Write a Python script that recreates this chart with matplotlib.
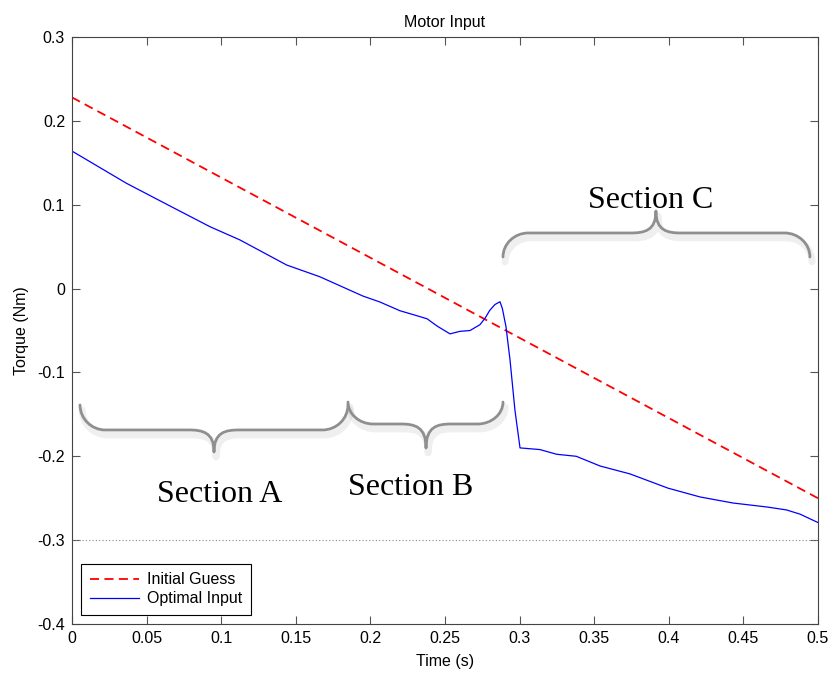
import matplotlib
matplotlib.use('Agg')
import matplotlib.pyplot as plt
import matplotlib.patheffects as pe
from matplotlib.path import Path
import matplotlib.patches as mpatches

plt.rcParams['font.family'] = ['Liberation Sans', 'DejaVu Sans']

# du lieu doc tu hinh
guess_t = [0.0, 0.5]
guess_u = [0.228, -0.25]

opt_t = [0.0, 0.0366, 0.0657, 0.0925, 0.1126, 0.1439, 0.166, 0.195, 0.2064,
         0.2198, 0.2286, 0.238, 0.245, 0.2534, 0.26, 0.2668, 0.2735, 0.277,
         0.28, 0.2835, 0.2869, 0.2885, 0.2909, 0.2936, 0.2969, 0.3003, 0.3137,
         0.3249, 0.338, 0.354, 0.374, 0.3995, 0.421, 0.443, 0.466, 0.479, 0.488, 0.5]
opt_u = [0.164, 0.1255, 0.0985, 0.0738, 0.058, 0.0281, 0.0142, -0.0089, -0.016,
         -0.0264, -0.031, -0.036, -0.045, -0.054, -0.051, -0.05, -0.043, -0.035,
         -0.026, -0.019, -0.0157, -0.024, -0.0455, -0.085, -0.145, -0.19, -0.192,
         -0.1976, -0.2, -0.2116, -0.221, -0.238, -0.2485, -0.2557, -0.2605, -0.264,
         -0.269, -0.279]

ref_level = -0.3

xticks = [0, 0.05, 0.1, 0.15, 0.2, 0.25, 0.3, 0.35, 0.4, 0.45, 0.5]
xtick_labels = ['0', '0.05', '0.1', '0.15', '0.2', '0.25', '0.3', '0.35', '0.4', '0.45', '0.5']
yticks = [-0.4, -0.3, -0.2, -0.1, 0, 0.1, 0.2, 0.3]
ytick_labels = ['-0.4', '-0.3', '-0.2', '-0.1', '0', '0.1', '0.2', '0.3']

# ngoac nhon: (x0, x1, xtip, y_end, y_flat, y_tip, ten, x_text, y_text)
sections = [
    (0.0054, 0.185, 0.0952, -0.1388, -0.1686, -0.1949, 'Section A', 0.0992, -0.246),
    (0.185, 0.2889, 0.2373, -0.1353, -0.1615, -0.1901, 'Section B', 0.2272, -0.2378),
    (0.2889, 0.4946, 0.3914, 0.0377, 0.0663, 0.0925, 'Section C', 0.388, 0.1056),
]


def brace_path(x0, x1, xt, ye, yf, yt, r=0.017):
    k = 0.55
    verts = [
        # goc trai
        (x0, ye), (x0, ye + k * (yf - ye)), (x0 + (1 - k) * r, yf), (x0 + r, yf),
        (xt - r, yf),
        # xuong dinh
        (xt - (1 - k) * r, yf), (xt, yf + 0.1 * (yt - yf)), (xt, yt),
        # tu dinh sang phai
        (xt, yf + 0.1 * (yt - yf)), (xt + (1 - k) * r, yf), (xt + r, yf),
        (x1 - r, yf),
        (x1 - (1 - k) * r, yf), (x1, ye + k * (yf - ye)), (x1, ye),
    ]
    codes = [Path.MOVETO, Path.CURVE4, Path.CURVE4, Path.CURVE4,
             Path.LINETO,
             Path.CURVE4, Path.CURVE4, Path.CURVE4,
             Path.CURVE4, Path.CURVE4, Path.CURVE4,
             Path.LINETO,
             Path.CURVE4, Path.CURVE4, Path.CURVE4]
    return Path(verts, codes)


fig = plt.figure(figsize=(8.3, 6.73), dpi=100, facecolor='white')
ax = fig.add_axes([0.0867, 0.0728, 0.8988, 0.8722])

ax.plot(guess_t, guess_u, '--', color='red', lw=1.3, dashes=(5, 3), label='Initial Guess')
ax.plot(opt_t, opt_u, '-', color='blue', lw=0.9, label='Optimal Input')
ax.axhline(ref_level, color='#888888', lw=0.8, ls=(0, (1, 2)))

for (x0, x1, xt, ye, yf, yt, name, tx, ty) in sections:
    p = mpatches.PathPatch(brace_path(x0, x1, xt, ye, yf, yt), facecolor='none',
                           edgecolor='#8f8f8f', lw=2.0, capstyle='round',
                           joinstyle='round', zorder=3,
                           path_effects=[pe.SimpleLineShadow(offset=(1.5, -3.5), shadow_color='#aaaaaa',
                                                             alpha=0.18, linewidth=5),
                                         pe.Normal()])
    ax.add_patch(p)
    ax.text(tx, ty, name, ha='center', va='center', fontsize=23,
            family=['Liberation Serif', 'DejaVu Serif'], color='black')

ax.set_xlim(0, 0.5)
ax.set_ylim(-0.4, 0.3)
ax.set_xticks(xticks)
ax.set_xticklabels(xtick_labels)
ax.set_yticks(yticks)
ax.set_yticklabels(ytick_labels)
ax.tick_params(direction='in', length=6, width=0.8, top=True, right=True,
               labelsize=11.5, pad=5, color='#555555')
for s in ax.spines.values():
    s.set_linewidth(0.8)
    s.set_color('#444444')

ax.set_title('Motor Input', fontsize=11.5, pad=7)
ax.set_xlabel('Time (s)', fontsize=11.5, labelpad=6)
ax.set_ylabel('Torque (Nm)', fontsize=11.5, labelpad=6)

leg = ax.legend(loc='lower left', fontsize=11.5, fancybox=False, framealpha=1,
                edgecolor='black', borderaxespad=0.55, handlelength=3.1,
                borderpad=0.55, labelspacing=0.25, handletextpad=0.5)
leg.get_frame().set_linewidth(0.8)

fig.savefig('out.png', dpi=100, facecolor='white')
